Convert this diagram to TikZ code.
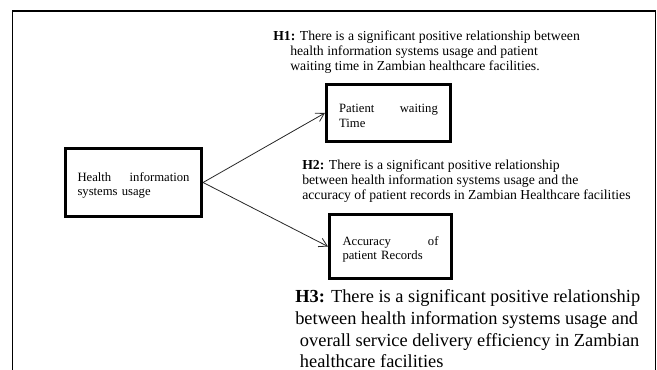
\documentclass[tikz,border=0pt]{standalone}
\usepackage{fontspec}
\setmainfont{Liberation Serif}
\usetikzlibrary{arrows.meta}

\tikzset{
  var/.style={draw, line width=2.4pt, inner sep=0pt, align=left,
    font=\fontsize{9.5}{11}\selectfont, execute at begin node={\rule{0pt}{11pt}}},
  hyp/.style={anchor=north west, inner sep=0pt, align=left,
    font=\fontsize{10.3}{11.25}\selectfont},
  link/.style={black!85, line width=0.6pt, -{Straight Barb[length=6pt,width=7pt]}}
}

\begin{document}
\begin{tikzpicture}[x=0.75pt,y=-0.75pt]
\useasboundingbox (0,0) rectangle (657,370);
% frame, open at the bottom
\draw[line width=1.3pt] (12.5,370) -- (12.5,11) -- (655.5,11) -- (655.5,370);

% variables
\node[var, minimum width=102pt, minimum height=51pt, text width=84pt] (hisu) at (133.5,182.5)
  {Health\hfill information\\systems usage};
\node[var, minimum width=93pt, minimum height=42.6pt, text width=74pt] (wait) at (388.5,113)
  {Patient\hfill waiting\\Time};
\node[var, minimum width=91.4pt, minimum height=48pt, text width=72pt] (acc) at (390.5,246.5)
  {Accuracy\hfill of\\patient Records};

\draw[link] (hisu.east) -- (wait.west);
\draw[link] (hisu.east) -- (acc.west);

% hypotheses
\node[hyp] (h1) at (273,30.5)
  {\textbf{H1:} There is a significant positive relationship between\\
   \hspace*{12.75pt}health information systems usage and patient\\
   \hspace*{12.75pt}waiting time in Zambian healthcare facilities.};
\node[hyp] (h2) at (302,159.5)
  {\textbf{H2:} There is a significant positive relationship\\
   between health information systems usage and the\\
   accuracy of patient records in Zambian Healthcare facilities};
\node[hyp, font=\fontsize{13.8}{16.3}\selectfont] (h3) at (295,289.5)
  {\textbf{H3:} There is a significant positive relationship\\
   between health information systems usage and\\
   \hspace*{3.5pt}overall service delivery efficiency in Zambian\\
   \hspace*{3.5pt}healthcare facilities};
\end{tikzpicture}
\end{document}
